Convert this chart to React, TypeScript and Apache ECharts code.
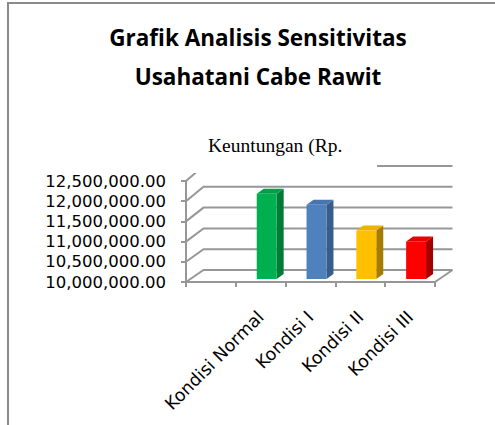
import React, { useEffect, useRef } from "react";
import * as echarts from "echarts";

const TITLE_LINES = ["Grafik Analisis Sensitivitas", "Usahatani Cabe Rawit"];
const AXIS_TITLE = "Keuntungan (Rp.";
const categories = ["Kondisi Normal", "Kondisi I", "Kondisi II", "Kondisi III"];
const values = [12110000, 11840000, 11200000, 10930000];
const yTicks = [10000000, 10500000, 11000000, 11500000, 12000000, 12500000];

const Y_MIN = yTicks[0];
const Y_MAX = yTicks[yTicks.length - 1];
const Y_STEP = yTicks[1] - yTicks[0];

const FRONT = ["#00B050", "#4F81BD", "#FFC000", "#FF0000"];
const SIDE = ["#007A37", "#385D8A", "#A67C00", "#A50000"];
const TOP = ["#00A048", "#4775AE", "#EFB200", "#E60000"];
const WALL = "#979797";

export default function App() {
  const ref = useRef<HTMLDivElement>(null);
  useEffect(() => {
    if (!ref.current) return;
    const chart = echarts.init(ref.current, undefined, { renderer: "svg" });
    const axisCats = ["", ...categories];
    const barData = values.map((v, i) => [i + 1, v]);
    const wallData = yTicks.map((v) => [0, v]);

    const option: any = {
      animation: false,
      backgroundColor: "#ffffff",
      grid: { left: 186, top: 181, width: 249, height: 101, containLabel: false },
      xAxis: {
        type: "category",
        data: axisCats,
        boundaryGap: true,
        axisLine: { show: true, lineStyle: { color: WALL, width: 2 } },
        axisTick: { show: true, length: 5, interval: 0, alignWithLabel: false, lineStyle: { color: WALL, width: 2 } },
        axisLabel: {
          interval: 0,
          rotate: 45,
          margin: 32,
          fontFamily: "DejaVu Sans",
          fontSize: 17.5,
          color: "#000",
        },
        splitLine: { show: false },
      },
      yAxis: {
        type: "value",
        min: Y_MIN,
        max: Y_MAX,
        interval: Y_STEP,
        axisLine: { show: true, lineStyle: { color: WALL, width: 2 } },
        axisTick: { show: true, length: 5, lineStyle: { color: WALL, width: 2 } },
        axisLabel: {
          margin: 20,
          fontFamily: "DejaVu Sans",
          fontSize: 16.5,
          color: "#000",
          formatter: (v: number) =>
            v.toLocaleString("en-US", { minimumFractionDigits: 2, maximumFractionDigits: 2 }),
        },
        splitLine: { show: false },
      },
      series: [
        {
          type: "custom",
          name: "walls",
          clip: false,
          z: 1,
          data: wallData,
          renderItem: (params: any, api: any) => {
            const v = api.value(1);
            const y = api.coord([0, v])[1];
            const t = (v - Y_MIN) / (Y_MAX - Y_MIN);
            const cs = params.coordSys;
            const dX = 17.5;
            const dY = -12 - 3 * t;
            const children: any[] = [
              {
                type: "polyline",
                shape: {
                  points: [
                    [cs.x, y],
                    [cs.x + dX, y + dY],
                    [cs.x + cs.width + dX, y + dY],
                  ],
                },
                style: { stroke: WALL, lineWidth: 2, fill: null },
              },
            ];
            if (v === Y_MIN) {
              children.push({
                type: "line",
                shape: { x1: cs.x + cs.width, y1: y, x2: cs.x + cs.width + dX, y2: y + dY },
                style: { stroke: WALL, lineWidth: 2 },
              });
            }
            return { type: "group", children };
          },
        },
        {
          type: "custom",
          name: "Keuntungan",
          clip: false,
          z: 3,
          data: barData,
          renderItem: (params: any, api: any) => {
            const ci = api.value(0);
            const v = api.value(1);
            const [cx, yTop] = api.coord([ci, v]);
            const yBase = api.coord([ci, Y_MIN])[1];
            const bw = api.size([1, 0])[0] * 0.4;
            const ox = 6, oy = -3, dx = 7, dy = -5;
            const x0 = cx + ox - bw / 2;
            const x1 = x0 + bw;
            const t = yTop + oy;
            const b = yBase + oy;
            const i = params.dataIndex;
            return {
              type: "group",
              children: [
                {
                  type: "polygon",
                  shape: { points: [[x1, t], [x1 + dx, t + dy], [x1 + dx, b + dy], [x1, b]] },
                  style: { fill: SIDE[i] },
                },
                {
                  type: "polygon",
                  shape: { points: [[x0, t], [x1, t], [x1 + dx, t + dy], [x0 + dx, t + dy]] },
                  style: { fill: TOP[i] },
                },
                {
                  type: "rect",
                  shape: { x: x0, y: t, width: bw, height: b - t },
                  style: { fill: FRONT[i] },
                },
              ],
            };
          },
        },
      ],
      graphic: [
        {
          type: "rect",
          z: 100,
          shape: { x: 8, y: 3, width: 700, height: 700 },
          style: { fill: "none", stroke: "#8a8a8a", lineWidth: 2 },
        },
        {
          type: "text",
          z: 100,
          x: 258,
          y: 18,
          style: {
            text: TITLE_LINES.join("\n"),
            textAlign: "center",
            textVerticalAlign: "top",
            fontFamily: "Open Sans",
            fontWeight: "bold",
            fontSize: 22.5,
            lineHeight: 39,
            fill: "#000",
          },
        },
        {
          type: "rect",
          z: 100,
          shape: { x: 191, y: 128, width: 186, height: 45 },
          style: { fill: "#ffffff", stroke: null },
        },
        {
          type: "text",
          z: 101,
          x: 208,
          y: 145,
          style: {
            text: AXIS_TITLE,
            textAlign: "left",
            textVerticalAlign: "middle",
            fontFamily: "Liberation Serif",
            fontSize: 19.5,
            fill: "#000",
          },
        },
      ],
    };
    chart.setOption(option);
    return () => chart.dispose();
  }, []);
  return (
    <div
      ref={ref}
      style={{ position: "fixed", left: 0, top: 0, width: 495, height: 425 }}
    />
  );
}
